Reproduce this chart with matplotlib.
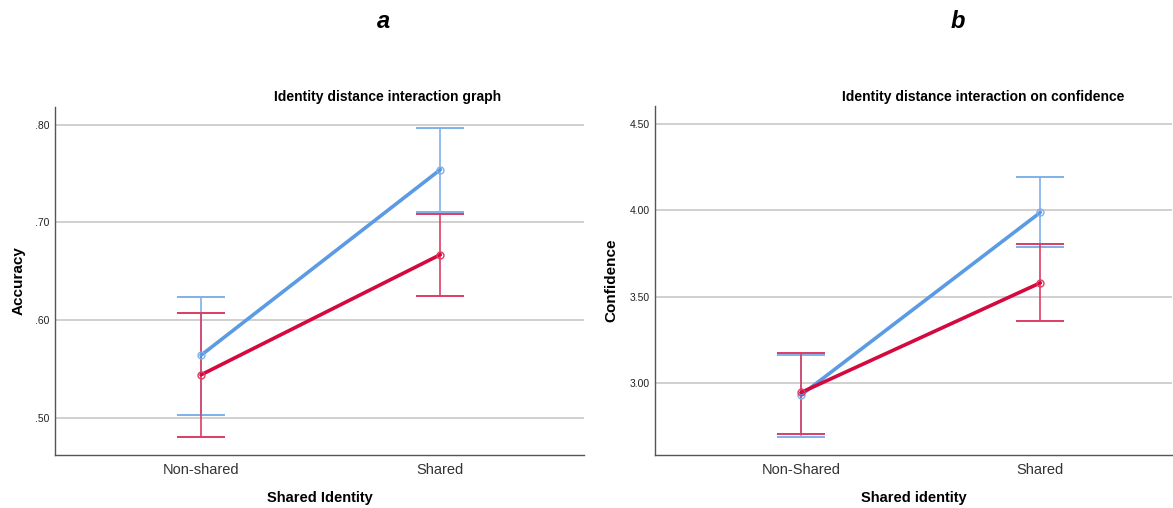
import matplotlib
matplotlib.use("Agg")
import matplotlib.pyplot as plt
import numpy as np

plt.rcParams['font.family'] = ['Liberation Sans', 'DejaVu Sans']

# Panel a: Accuracy
cats_a = ["Non-shared", "Shared"]
acc_blue = [0.564, 0.754]
acc_blue_lo = [0.503, 0.711]
acc_blue_hi = [0.6235, 0.797]
acc_red = [0.544, 0.667]
acc_red_lo = [0.480, 0.625]
acc_red_hi = [0.6075, 0.709]
yticks_a = [0.50, 0.60, 0.70, 0.80]
yticklabels_a = [".50", ".60", ".70", ".80"]

# Panel b: Confidence
cats_b = ["Non-Shared", "Shared"]
conf_blue = [2.930, 3.988]
conf_blue_lo = [2.687, 3.785]
conf_blue_hi = [3.162, 4.190]
conf_red = [2.945, 3.580]
conf_red_lo = [2.705, 3.360]
conf_red_hi = [3.174, 3.804]
yticks_b = [3.00, 3.50, 4.00, 4.50]
yticklabels_b = ["3.00", "3.50", "4.00", "4.50"]

BLUE = "#5b9be3"
RED = "#d4093d"
BLUE_EB = "#7fb0ea"
RED_EB = "#dc3d63"

fig = plt.figure(figsize=(11.73, 5.08), dpi=100)

def panel(rect, cats, blue, blo, bhi, red, rlo, rhi, yticks, ylabels, ylim, xlim,
          ylabel, xlabel, title, title_x, ylab_x):
    ax = fig.add_axes(rect)
    x = np.arange(len(cats))
    for m, lo, hi, col, ecol, z in [(blue, blo, bhi, BLUE, BLUE_EB, 3), (red, rlo, rhi, RED, RED_EB, 4)]:
        m = np.array(m); lo = np.array(lo); hi = np.array(hi)
        ax.errorbar(x, m, yerr=[m - lo, hi - m], fmt='none', ecolor=ecol, elinewidth=1.2,
                    capsize=17, capthick=1.4, zorder=z)
        ax.plot(x, m, color=col, lw=2.6, zorder=z + 2, solid_capstyle='round')
        ax.plot(x, m, 'o', mfc='none', mec=ecol, ms=5, mew=1.0, zorder=z + 3)
    ax.set_xticks(x)
    ax.set_xticklabels(cats, fontsize=10.5, color="#333333")
    ax.set_yticks(yticks)
    ax.set_yticklabels(ylabels, fontsize=7.5, color="#222222")
    ax.tick_params(axis='both', length=0)
    ax.tick_params(axis='x', pad=6)
    ax.tick_params(axis='y', pad=4)
    ax.set_ylim(*ylim)
    ax.set_xlim(*xlim)
    ax.yaxis.grid(True, color="#c8c8c8", lw=1.2)
    ax.set_axisbelow(True)
    for s in ['top', 'right']:
        ax.spines[s].set_visible(False)
    for s in ['left', 'bottom']:
        ax.spines[s].set_color("#555555")
        ax.spines[s].set_linewidth(1.0)
    ax.set_ylabel(ylabel, fontsize=11, fontweight='bold')
    ax.yaxis.set_label_coords(ylab_x, 0.5)
    ax.set_xlabel(xlabel, fontsize=10.5, fontweight='bold', labelpad=10)
    fig.text(title_x, 1 - 97 / 508, title, fontsize=10, fontweight='bold', ha='center', va='center')
    return ax

axa = panel([55 / 1173, 1 - 455 / 508, 529 / 1173, 348 / 508], cats_a,
            acc_blue, acc_blue_lo, acc_blue_hi, acc_red, acc_red_lo, acc_red_hi,
            yticks_a, yticklabels_a, (0.462, 0.818), (-0.61, 1.60),
            "Accuracy", "Shared Identity", "Identity distance interaction graph", 388 / 1173, -0.056)
axb = panel([655 / 1173, 1 - 455 / 508, 517 / 1173, 349 / 508], cats_b,
            conf_blue, conf_blue_lo, conf_blue_hi, conf_red, conf_red_lo, conf_red_hi,
            yticks_b, yticklabels_b, (2.583, 4.604), (-0.61, 1.55),
            "Confidence", "Shared identity", "Identity distance interaction on confidence", 983 / 1173, -0.07)

fig.text(383 / 1173, 1 - 22 / 508, "a", fontsize=17, fontweight='bold', style='italic', ha='center', va='center')
fig.text(958 / 1173, 1 - 22 / 508, "b", fontsize=17, fontweight='bold', style='italic', ha='center', va='center')

fig.savefig("out.png", dpi=100)
